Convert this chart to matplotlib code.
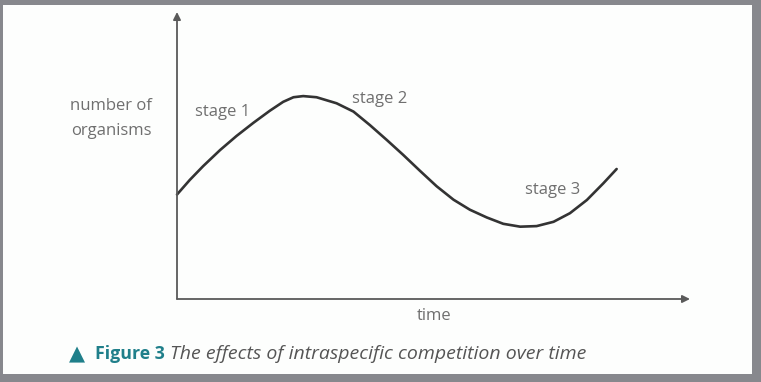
import numpy as np
import matplotlib
matplotlib.use('Agg')
import matplotlib.pyplot as plt
from matplotlib.patches import Rectangle

# curve (time, number of organisms), axis units 0-10
time = [0.0, 0.25, 0.51, 0.84, 1.16, 1.49, 1.81, 2.07, 2.27, 2.46, 2.72,
        3.11, 3.44, 3.76, 4.09, 4.41, 4.74, 5.06, 5.39, 5.71, 6.04, 6.36,
        6.69, 7.01, 7.34, 7.66, 7.99, 8.31, 8.57]
organisms = [3.64, 4.15, 4.63, 5.19, 5.68, 6.14, 6.56, 6.87, 7.03, 7.07, 7.03,
             6.82, 6.53, 6.06, 5.54, 5.02, 4.46, 3.93, 3.46, 3.11, 2.84, 2.62,
             2.52, 2.54, 2.69, 2.99, 3.45, 4.03, 4.53]
stage_labels = ["stage 1", "stage 2", "stage 3"]

W, H = 761, 382
grey_txt = "#6f6f6f"
axis_col = "#5a5a5a"
teal = "#1f7f8a"

def fx(px):
    return px / W

def fy(py):
    return 1 - py / H

fig = plt.figure(figsize=(W / 100, H / 100), dpi=100)
fig.patch.set_facecolor("#87888d")
fig.patches.append(Rectangle((fx(3), fy(374)), fx(752) - fx(3), fy(5) - fy(374),
                             transform=fig.transFigure, facecolor="#fdfefd",
                             edgecolor="none", zorder=-5))

ax = fig.add_axes([fx(177), fy(299), fx(690) - fx(177), fy(12) - fy(299)])
ax.set_zorder(2)
ax.set_xlim(0, 10)
ax.set_ylim(0, 10)
ax.axis("off")

arr = dict(arrowstyle="-|>", lw=1.3, color=axis_col, mutation_scale=11,
           shrinkA=0, shrinkB=0)
ax.annotate("", xy=(0, 10), xytext=(0, 0), arrowprops=arr)
ax.annotate("", xy=(10, 0), xytext=(0, 0), arrowprops=arr)

ax.plot(time, organisms, color="#333333", lw=1.9, solid_capstyle="round",
        solid_joinstyle="round", clip_on=False)

font = "Open Sans"
fs = 12
fig.text(fx(152), fy(106), "number of", ha="right", va="center",
         fontsize=fs, color=grey_txt, family=font)
fig.text(fx(152), fy(131), "organisms", ha="right", va="center",
         fontsize=fs, color=grey_txt, family=font)
fig.text(fx(195), fy(112), stage_labels[0], ha="left", va="center",
         fontsize=fs, color=grey_txt, family=font)
fig.text(fx(352), fy(99), stage_labels[1], ha="left", va="center",
         fontsize=fs, color=grey_txt, family=font)
fig.text(fx(525), fy(190), stage_labels[2], ha="left", va="center",
         fontsize=fs, color=grey_txt, family=font)
fig.text(fx(417), fy(316), "time", ha="left", va="center",
         fontsize=fs, color=grey_txt, family=font)

fig.text(fx(69), fy(354), "\u25B2", ha="left", va="center", fontsize=15,
         color=teal, family="DejaVu Sans")
fig.text(fx(95), fy(354), "Figure 3", ha="left", va="center", fontsize=12.8,
         color=teal, family=font, fontweight="bold")
fig.text(fx(170), fy(354), "The effects of intraspecific competition over time",
         ha="left", va="center", fontsize=14, color="#555555", family=font,
         style="italic")

fig.savefig("out.png", dpi=100, facecolor=fig.get_facecolor())
